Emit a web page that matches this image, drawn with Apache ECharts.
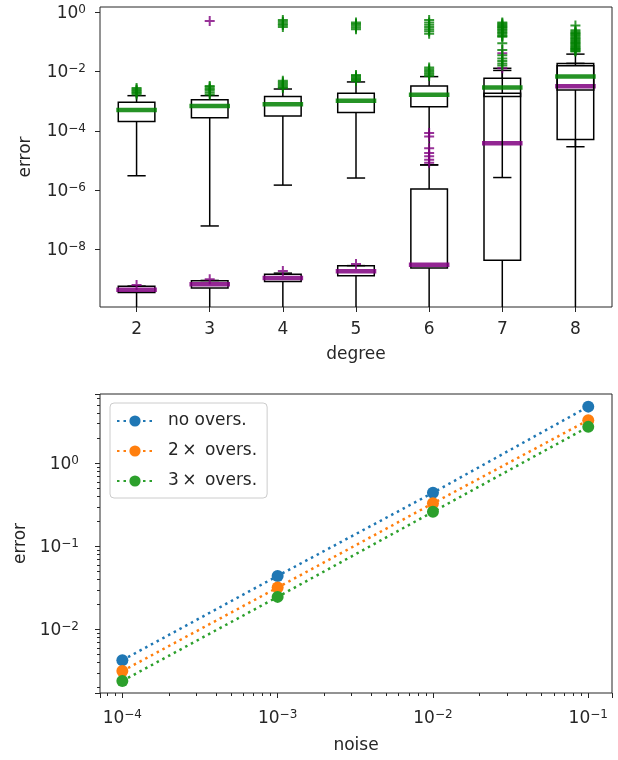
<!DOCTYPE html>
<html>
<head>
<meta charset="utf-8">
<script src="https://cdn.jsdelivr.net/npm/echarts@6/dist/echarts.min.js"></script>
<style>
  html, body { margin: 0; padding: 0; background: #fff; }
  #chart { width: 618px; height: 760px; }
</style>
</head>
<body>
<div id="chart"></div>
<script>
// ---- top panel: error vs degree (two overlaid boxplots) ----
const degrees = ['2', '3', '4', '5', '6', '7', '8'];

// [lower whisker, Q1, median, Q3, upper whisker]; 1e-12 = whisker runs off the bottom
const greenStats = [
  [3.1e-6, 2.1e-4, 5.1e-4, 9.3e-4, 1.55e-3],
  [6.3e-8, 2.8e-4, 6.9e-4, 1.12e-3, 1.55e-3],
  [1.5e-6, 3.2e-4, 7.9e-4, 1.45e-3, 2.6e-3],
  [2.6e-6, 4.2e-4, 1.05e-3, 1.86e-3, 4.5e-3],
  [7.2e-6, 6.6e-4, 1.66e-3, 3.3e-3, 6.8e-3],
  [2.7e-6, 1.45e-3, 2.9e-3, 6.0e-3, 1.3e-2],
  [2.95e-5, 5.2e-5, 6.8e-3, 1.9e-2, 3.9e-2]
];
const purpleStats = [
  [1e-12, 3.6e-10, 4.5e-10, 5.8e-10, 5.9e-10],
  [1e-12, 5.1e-10, 6.9e-10, 8.9e-10, 9.2e-10],
  [1e-12, 8.5e-10, 1.1e-9, 1.5e-9, 1.62e-9],
  [1e-12, 1.32e-9, 1.86e-9, 2.9e-9, 2.9e-9],
  [1e-12, 2.4e-9, 3.1e-9, 1.12e-6, 7.2e-6],
  [1e-12, 4.4e-9, 3.9e-5, 1.86e-3, 1.1e-2],
  [1e-12, 2.4e-3, 3.2e-3, 1.58e-2, 1.9e-2]
];

// outliers per degree
const greenFliers = [
  [0.0017, 0.0019, 0.0021, 0.0023, 0.0025, 0.0028],
  [0.0017, 0.002, 0.0023, 0.0026, 0.003, 0.0033],
  [0.0028, 0.0031, 0.0035, 0.0039, 0.0044, 0.0049, 0.32, 0.37, 0.42, 0.48, 0.55],
  [0.0048, 0.0053, 0.0058, 0.0064, 0.007, 0.0077, 0.27, 0.31, 0.35, 0.4, 0.45],
  [0.0072, 0.0082, 0.0092, 0.0105, 0.012, 0.0138, 0.19, 0.23, 0.27, 0.32, 0.38, 0.45, 0.55],
  [0.016, 0.019, 0.023, 0.028, 0.036, 0.054, 0.09, 0.15, 0.16, 0.18, 0.2, 0.22, 0.25,
   0.27, 0.3, 0.32, 0.35, 0.38, 0.42, 0.45],
  [0.048, 0.05, 0.055, 0.058, 0.062, 0.066, 0.072, 0.078, 0.085, 0.092, 0.1, 0.11,
   0.12, 0.13, 0.14, 0.155, 0.17, 0.185, 0.2, 0.22, 0.25, 0.36]
];
const purpleFliers = [
  [6.5e-10],
  [1.0e-9, 0.51],
  [1.9e-9],
  [3.3e-9],
  [8.5e-6, 1.07e-5, 1.4e-5, 1.8e-5, 2.6e-5, 6.5e-5, 8.5e-5],
  [0.013, 0.042],
  []
];

// ---- bottom panel: error vs noise ----
const noise = [1e-4, 1e-3, 1e-2, 1e-1];
const errNoOvers = [0.00427, 0.0442, 0.443, 4.82];
const err2xOvers = [0.00316, 0.032, 0.33, 3.31];
const err3xOvers = [0.0024, 0.0247, 0.261, 2.75];

const FONT = 'DejaVu Sans';
const INK = '#262626';

const chart = echarts.init(document.getElementById('chart'));

function pow10Label(value) {
  const e = Math.log10(value);
  const r = Math.round(e);
  if (Math.abs(e - r) > 1e-6) return '';
  return '{b|10}{s|' + String(r).replace('-', '\u2212') + '}';
}

const richPow = {
  b: { fontFamily: FONT, fontSize: 17, color: INK, lineHeight: 17, padding: [2, 0, 0, 0] },
  s: { fontFamily: FONT, fontSize: 12, color: INK, lineHeight: 12, verticalAlign: 'top' }
};

function boxRenderer(medianColor) {
  return function (params, api) {
    const x = api.value(0);
    const ys = [1, 2, 3, 4, 5].map(i => api.coord([x, api.value(i)])[1]);
    const cx = api.coord([x, api.value(3)])[0];
    const band = api.size([1, 0])[0];
    const bw = band * 0.5;
    const cw = bw * 0.5;
    const [lo, q1, med, q3, hi] = ys;
    const black = { stroke: '#000', lineWidth: 1.5, fill: null };
    const seg = (x1, y1, x2, y2) => ({ type: 'line', shape: { x1, y1, x2, y2 }, style: black });
    return {
      type: 'group',
      children: [
        seg(cx, q1, cx, lo),
        seg(cx, q3, cx, hi),
        seg(cx - cw / 2, lo, cx + cw / 2, lo),
        seg(cx - cw / 2, hi, cx + cw / 2, hi),
        { type: 'rect', shape: { x: cx - bw / 2, y: q3, width: bw, height: q1 - q3 },
          style: { stroke: '#000', lineWidth: 1.5, fill: null } },
        { type: 'line', shape: { x1: cx - bw / 2 - 2, y1: med, x2: cx + bw / 2 + 2, y2: med },
          style: { stroke: medianColor, lineWidth: 4.5, opacity: 0.85 } }
      ]
    };
  };
}

// "+" marker like matplotlib's flier
const plusSymbol = 'path://M4,0h2v4h4v2h-4v4h-2v-4h-4v-2h4z';

function flatten(fliers) {
  const out = [];
  fliers.forEach((vals, i) => vals.forEach(v => out.push([i, v])));
  return out;
}

function boxSeries(stats, color) {
  return {
    type: 'custom',
    xAxisIndex: 0, yAxisIndex: 0,
    clip: true,
    renderItem: boxRenderer(color),
    encode: { x: 0, y: [1, 2, 3, 4, 5] },
    data: stats.map((s, i) => [i].concat(s)),
    silent: true
  };
}

function flierSeries(fliers, color) {
  return {
    type: 'scatter',
    xAxisIndex: 0, yAxisIndex: 0,
    symbol: plusSymbol,
    symbolSize: 10,
    itemStyle: { color: color },
    data: flatten(fliers),
    silent: true
  };
}

function lineSeries(name, vals, color) {
  return {
    name: name,
    type: 'line',
    xAxisIndex: 1, yAxisIndex: 1,
    data: noise.map((n, i) => [n, vals[i]]),
    symbol: 'circle',
    symbolSize: 12,
    showSymbol: true,
    itemStyle: { color: color },
    lineStyle: { color: color, width: 2.5, type: [2.5, 4] },
    silent: true
  };
}

const axisTextStyle = { fontFamily: FONT, fontSize: 17, color: INK };

const option = {
  backgroundColor: '#fff',
  animation: false,
  grid: [
    { left: 100, top: 7, width: 512, height: 300, show: true, borderColor: INK, borderWidth: 1, backgroundColor: 'transparent' },
    { left: 100, top: 394, width: 512, height: 299, show: true, borderColor: INK, borderWidth: 1, backgroundColor: 'transparent' }
  ],
  xAxis: [
    {
      gridIndex: 0,
      type: 'category',
      data: degrees,
      boundaryGap: true,
      name: 'degree',
      nameLocation: 'middle',
      nameGap: 39,
      nameTextStyle: axisTextStyle,
      axisLine: { show: false },
      axisTick: { show: true, alignWithLabel: true, length: 5, lineStyle: { color: INK } },
      axisLabel: { fontFamily: FONT, fontSize: 17, color: INK, margin: 14 },
      splitLine: { show: false }
    },
    {
      gridIndex: 1,
      type: 'log',
      logBase: 10,
      min: 7.18e-5,
      max: 0.1422,
      name: 'noise',
      nameLocation: 'middle',
      nameGap: 44,
      nameTextStyle: axisTextStyle,
      axisLine: { show: false },
      axisTick: { show: true, length: 5, lineStyle: { color: INK } },
      minorTick: { show: true, splitNumber: 9, length: 3, lineStyle: { color: INK } },
      axisLabel: { formatter: pow10Label, rich: richPow, margin: 16, showMinLabel: false, showMaxLabel: false },
      splitLine: { show: false },
      minorSplitLine: { show: false }
    }
  ],
  yAxis: [
    {
      gridIndex: 0,
      type: 'log',
      logBase: 100,
      min: 1.17e-10,
      max: 1.51,
      name: 'error',
      nameLocation: 'middle',
      nameGap: 66,
      nameTextStyle: axisTextStyle,
      axisLine: { show: false },
      axisTick: { show: true, length: 5, lineStyle: { color: INK } },
      axisLabel: { formatter: pow10Label, rich: richPow, margin: 14, showMinLabel: false, showMaxLabel: false },
      splitLine: { show: false }
    },
    {
      gridIndex: 1,
      type: 'log',
      logBase: 10,
      min: 1.72e-3,
      max: 6.84,
      name: 'error',
      nameLocation: 'middle',
      nameGap: 66,
      nameTextStyle: axisTextStyle,
      axisLine: { show: false },
      axisTick: { show: true, length: 5, lineStyle: { color: INK } },
      minorTick: { show: true, splitNumber: 9, length: 3, lineStyle: { color: INK } },
      axisLabel: { formatter: pow10Label, rich: richPow, margin: 21, showMinLabel: false, showMaxLabel: false },
      splitLine: { show: false },
      minorSplitLine: { show: false }
    }
  ],
  legend: {
    orient: 'vertical',
    left: 110,
    top: 403,
    padding: [9, 10, 8, 6],
    itemGap: 12,
    itemWidth: 36,
    itemHeight: 14,
    backgroundColor: '#fff',
    borderColor: '#cccccc',
    borderWidth: 1,
    borderRadius: 4,
    textStyle: { fontFamily: FONT, fontSize: 17, color: INK, lineHeight: 18, padding: [0, 0, 0, 10] },
    data: ['no overs.', '2\u2009\u00d7\u2002overs.', '3\u2009\u00d7\u2002overs.']
  },
  series: [
    boxSeries(purpleStats, '#800080'),
    flierSeries(purpleFliers, '#800080'),
    boxSeries(greenStats, '#008000'),
    flierSeries(greenFliers, '#008000'),
    lineSeries('no overs.', errNoOvers, '#1f77b4'),
    lineSeries('2\u2009\u00d7\u2002overs.', err2xOvers, '#ff7f0e'),
    lineSeries('3\u2009\u00d7\u2002overs.', err3xOvers, '#2ca02c')
  ]
};

chart.setOption(option);
</script>
</body>
</html>
